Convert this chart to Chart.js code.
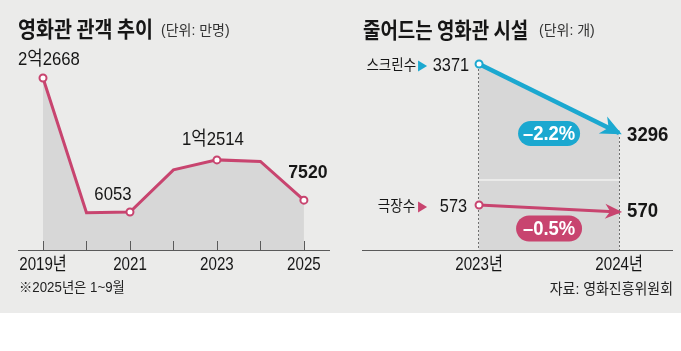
<!DOCTYPE html>
<html>
<head>
<meta charset="utf-8">
<script src="https://cdn.jsdelivr.net/npm/chart.js@4.4.1/dist/chart.umd.min.js"></script>
<style>
  body { margin: 0; background: #fff; }
  #wrap { position: relative; width: 681px; height: 313px; background: #ebebea; }
  canvas { position: absolute; top: 0; }
</style>
</head>
<body>
<div id="wrap">
  <canvas id="chartAudience" width="340" height="313" style="left:0"></canvas>
  <canvas id="chartFacility" width="341" height="313" style="left:340px"></canvas>
</div>
<script>
// 영화관 관객 추이 (만명)
const years = [2019, 2020, 2021, 2022, 2023, 2024, 2025];
const audience = [22668, 5952, 6053, 11281, 12514, 12313, 7520];
const labeledYears = [2019, 2021, 2023, 2025];

// 줄어드는 영화관 시설 (개)
const facilityYears = [2023, 2024];
const screens = [3371, 3296];
const theaters = [573, 570];

const PINK = '#c8446f';
const CYAN = '#1ba8d0';
const FILL = '#d7d7d7';
const INK = '#161616';
const FONT = '"Liberation Sans", "Noto Sans CJK KR", sans-serif';

// 글자를 살짝 좁게 찍는다 (원본이 장체라서)
function label(ctx, s, x, y, o) {
  o = o || {};
  const size = o.size || 18, weight = o.weight || 'normal', sx = o.sx || 0.88;
  const align = o.align || 'left';
  ctx.save();
  ctx.font = weight + ' ' + size + 'px ' + (o.font || FONT);
  ctx.fillStyle = o.color || INK;
  ctx.textBaseline = 'middle';
  ctx.textAlign = 'left';
  const w = ctx.measureText(s).width * sx;
  const left = align === 'left' ? x : align === 'center' ? x - w / 2 : x - w;
  ctx.translate(left, y);
  ctx.scale(sx, 1);
  ctx.fillText(s, 0, 0);
  ctx.restore();
  return w;
}

function fmtMan(v) {
  return v >= 10000 ? Math.floor(v / 10000) + '억' + (v % 10000) : String(v);
}

// ---------------- 왼쪽: 관객 추이 ----------------
const audienceLabels = {
  2019: { dx: -25, dy: -18, align: 'left' },
  2021: { dx: -17, dy: -17, align: 'center' },
  2023: { dx: -4, dy: -20, align: 'center' },
  2025: { dx: 4, dy: -27, align: 'center', bold: true }
};

const audiencePlugin = {
  id: 'audienceDeco',
  afterDatasetsDraw(chart) {
    const { ctx, chartArea: a, scales: { x } } = chart;
    const meta = chart.getDatasetMeta(0);
    ctx.save();
    ctx.strokeStyle = '#5a5a5a';
    ctx.lineWidth = 1;
    ctx.beginPath();
    ctx.moveTo(a.left, a.bottom + 0.5);
    ctx.lineTo(a.right, a.bottom + 0.5);
    years.forEach(yr => {
      const px = Math.round(x.getPixelForValue(yr)) + 0.5;
      ctx.moveTo(px, a.bottom - 9);
      ctx.lineTo(px, a.bottom);
    });
    ctx.stroke();
    ctx.restore();

    labeledYears.forEach((yr, i) => {
      label(ctx, i === 0 ? yr + '년' : String(yr), x.getPixelForValue(yr), a.bottom + 15,
        { size: 18, sx: 0.84, align: 'center' });
    });

    years.forEach((yr, i) => {
      const o = audienceLabels[yr];
      if (!o) return;
      const p = meta.data[i];
      label(ctx, fmtMan(audience[i]), p.x + o.dx, p.y + o.dy,
        { size: 19, sx: o.bold ? 0.93 : 0.88, weight: o.bold ? 'bold' : 'normal', align: o.align });
    });

    label(ctx, '영화관 관객 추이', 18, 29, { size: 22, weight: 'bold', sx: 0.89, font: '"Noto Sans CJK KR"' });
    label(ctx, '(단위: 만명)', 161, 31, { size: 14, sx: 1.0, color: '#333' });
    label(ctx, '※2025년은 1~9월', 19, 288, { size: 14, sx: 0.95, color: '#222' });
  }
};

new Chart(document.getElementById('chartAudience'), {
  type: 'line',
  data: {
    datasets: [{
      data: years.map((yr, i) => ({ x: yr, y: audience[i] })),
      borderColor: PINK,
      borderWidth: 3,
      tension: 0,
      fill: 'start',
      backgroundColor: FILL,
      pointRadius: c => (c.dataIndex % 2 === 0 ? 3.5 : 0),
      pointBackgroundColor: '#fff',
      pointBorderColor: PINK,
      pointBorderWidth: 2
    }]
  },
  options: {
    responsive: false,
    animation: false,
    layout: { padding: { left: 18, right: 10, top: 30, bottom: 63 } },
    scales: {
      x: { type: 'linear', min: 2018.425, max: 2025.6, display: false },
      y: { min: 1340, max: 28618, display: false }
    },
    plugins: { legend: { display: false }, tooltip: { enabled: false } }
  },
  plugins: [audiencePlugin]
});

// ---------------- 오른쪽: 영화관 시설 ----------------
const SCREEN_FLOOR = 3246;   // 위 칸 회색 바닥
const THEATER_BAND_TOP = 583.3; // 아래 칸 회색 위쪽

function arrowHead(ctx, x0, y0, x1, y1, len, half, ext, color) {
  const d = Math.hypot(x1 - x0, y1 - y0), ux = (x1 - x0) / d, uy = (y1 - y0) / d;
  const nx = -uy, ny = ux;
  const tx = x1 + ux * ext, ty = y1 + uy * ext;
  ctx.save();
  ctx.fillStyle = color;
  ctx.beginPath();
  ctx.moveTo(tx, ty);
  ctx.lineTo(tx - ux * len + nx * half, ty - uy * len + ny * half);
  ctx.lineTo(tx - ux * len * 0.7, ty - uy * len * 0.7);
  ctx.lineTo(tx - ux * len - nx * half, ty - uy * len - ny * half);
  ctx.closePath();
  ctx.fill();
  ctx.restore();
}

function pill(ctx, text, cx, cy, w, h, color) {
  ctx.save();
  ctx.fillStyle = color;
  ctx.beginPath();
  ctx.roundRect(cx - w / 2, cy - h / 2, w, h, h / 2);
  ctx.fill();
  ctx.restore();
  label(ctx, text, cx, cy + 1, { size: 21, weight: 'bold', sx: 0.88, align: 'center', color: '#fff' });
}

function tri(ctx, x, y, w, h, color) {
  ctx.save();
  ctx.fillStyle = color;
  ctx.beginPath();
  ctx.moveTo(x, y - h / 2);
  ctx.lineTo(x + w, y);
  ctx.lineTo(x, y + h / 2);
  ctx.closePath();
  ctx.fill();
  ctx.restore();
}

function pct(a, b) {
  return '–' + Math.abs(((b - a) / a) * 100).toFixed(1) + '%';
}

const facilityPlugin = {
  id: 'facilityDeco',
  beforeDatasetsDraw(chart) {
    const { ctx, chartArea: a, scales: { x, y2 } } = chart;
    const x0 = x.getPixelForValue(facilityYears[0]), x1 = x.getPixelForValue(facilityYears[1]);
    const top = y2.getPixelForValue(THEATER_BAND_TOP);
    ctx.save();
    ctx.fillStyle = FILL;
    ctx.fillRect(x0, top, x1 - x0, a.bottom - top);
    ctx.restore();
  },
  afterDatasetsDraw(chart) {
    const { ctx, chartArea: a, scales: { x } } = chart;
    const s = chart.getDatasetMeta(0).data, t = chart.getDatasetMeta(1).data;

    // 점선
    ctx.save();
    ctx.strokeStyle = '#6e6e6e';
    ctx.lineWidth = 1;
    ctx.setLineDash([2, 2]);
    ctx.beginPath();
    const px0 = Math.round(s[0].x) - 0.5, px1 = Math.round(s[1].x) + 0.5;
    ctx.moveTo(px0, s[0].y + 5); ctx.lineTo(px0, t[0].y - 5);
    ctx.moveTo(px0, t[0].y + 5); ctx.lineTo(px0, a.bottom);
    ctx.moveTo(px1, s[1].y + 4); ctx.lineTo(px1, a.bottom);
    ctx.stroke();
    ctx.restore();

    // 축
    ctx.save();
    ctx.strokeStyle = '#5a5a5a';
    ctx.lineWidth = 1;
    ctx.beginPath();
    ctx.moveTo(a.left, a.bottom + 0.5);
    ctx.lineTo(a.right, a.bottom + 0.5);
    ctx.stroke();
    ctx.restore();

    arrowHead(ctx, s[0].x, s[0].y, s[1].x, s[1].y, 21, 9.5, 3, CYAN);
    arrowHead(ctx, t[0].x, t[0].y, t[1].x, t[1].y, 17, 7.5, 3, PINK);

    facilityYears.forEach(yr => {
      label(ctx, yr + '년', x.getPixelForValue(yr), a.bottom + 15, { size: 18, sx: 0.84, align: 'center' });
    });

    // 시리즈 이름
    label(ctx, '스크린수', s[0].x - 63, s[0].y + 2, { size: 15, sx: 0.9, align: 'right' });
    tri(ctx, s[0].x - 61, s[0].y + 2, 9, 11, CYAN);
    label(ctx, String(screens[0]), s[0].x - 10, s[0].y + 2, { size: 19, sx: 0.86, align: 'right' });
    label(ctx, String(screens[1]), s[1].x + 8, s[1].y + 2, { size: 20, sx: 0.93, weight: 'bold' });

    label(ctx, '극장수', t[0].x - 64, t[0].y + 2, { size: 15, sx: 0.9, align: 'right' });
    tri(ctx, t[0].x - 61, t[0].y + 2, 9, 11, PINK);
    label(ctx, String(theaters[0]), t[0].x - 12, t[0].y + 2, { size: 19, sx: 0.86, align: 'right' });
    label(ctx, String(theaters[1]), t[1].x + 8, t[1].y, { size: 20, sx: 0.93, weight: 'bold' });

    const mx = (s[0].x + s[1].x) / 2;
    pill(ctx, pct(screens[0], screens[1]), mx, (s[0].y + s[1].y) / 2 + 35, 62, 25, CYAN);
    pill(ctx, pct(theaters[0], theaters[1]), mx, (t[0].y + t[1].y) / 2 + 20, 66, 26, PINK);

    label(ctx, '줄어드는 영화관 시설', 23, 30, { size: 22, weight: 'bold', sx: 0.86, font: '"Noto Sans CJK KR"' });
    label(ctx, '(단위: 개)', 199, 31, { size: 14, sx: 1.0, color: '#333' });
    label(ctx, '자료: 영화진흥위원회', 333, 290, { size: 15, sx: 0.93, align: 'right', color: '#222' });
  }
};

new Chart(document.getElementById('chartFacility'), {
  type: 'line',
  data: {
    datasets: [{
      data: facilityYears.map((yr, i) => ({ x: yr, y: screens[i] })),
      yAxisID: 'y',
      borderColor: CYAN,
      borderWidth: 4.5,
      fill: { value: SCREEN_FLOOR },
      backgroundColor: FILL,
      pointRadius: [3.5, 0],
      pointBackgroundColor: '#fff',
      pointBorderColor: CYAN,
      pointBorderWidth: 2
    }, {
      data: facilityYears.map((yr, i) => ({ x: yr, y: theaters[i] })),
      yAxisID: 'y2',
      borderColor: PINK,
      borderWidth: 3,
      fill: false,
      pointRadius: [3.5, 0],
      pointBackgroundColor: '#fff',
      pointBorderColor: PINK,
      pointBorderWidth: 2
    }]
  },
  options: {
    responsive: false,
    animation: false,
    layout: { padding: { left: 22, right: 8, top: 30, bottom: 63 } },
    scales: {
      x: { type: 'linear', min: 2022.164, max: 2024.385, display: false },
      y: { min: 3168.8, max: 3408, display: false },
      y2: { min: 553.7, max: 648, display: false }
    },
    plugins: { legend: { display: false }, tooltip: { enabled: false } }
  },
  plugins: [facilityPlugin]
});
</script>
</body>
</html>
